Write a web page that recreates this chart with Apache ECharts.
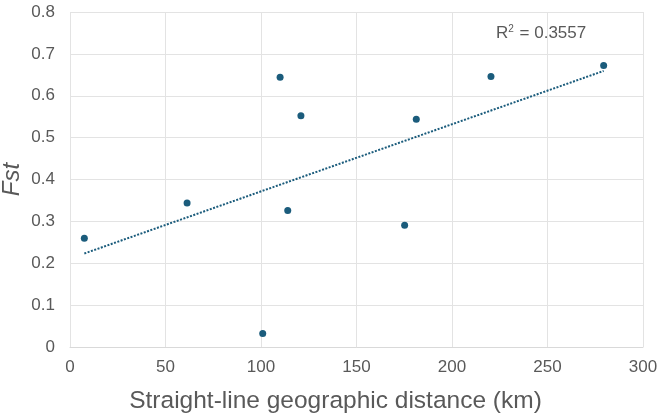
<!DOCTYPE html>
<html style="height: 100%">
<head>
    <meta charset="utf-8">
    <title>Fst vs distance</title>
    <script src="https://cdn.jsdelivr.net/npm/echarts@6/dist/echarts.min.js"></script>
    <style>
        html, body { margin: 0; padding: 0; background: #fff; }
        #container { width: 661px; height: 418px; }
    </style>
</head>
<body>
<div id="container"></div>
<script>
    // values
    var distKm = [7.5, 61.3, 100.9, 110, 114, 120.9, 175.2, 181.3, 220.4, 279.4];
    var fstVal = [0.26, 0.344, 0.032, 0.644, 0.326, 0.552, 0.291, 0.544, 0.646, 0.672];
    var r2Text = '0.3557';

    var points = [];
    for (var i = 0; i < distKm.length; i++) {
        points.push([distKm[i], fstVal[i]]);
    }

    // least squares trend line across the data range
    var n = distKm.length, mx = 0, my = 0;
    distKm.forEach(function (v) { mx += v / n; });
    fstVal.forEach(function (v) { my += v / n; });
    var sxy = 0, sxx = 0;
    for (var j = 0; j < n; j++) {
        sxy += (distKm[j] - mx) * (fstVal[j] - my);
        sxx += (distKm[j] - mx) * (distKm[j] - mx);
    }
    var slope = sxy / sxx;
    var icpt = my - slope * mx;
    var xMin = Math.min.apply(null, distKm);
    var xMax = Math.max.apply(null, distKm);
    var trend = [[xMin, icpt + slope * xMin], [xMax, icpt + slope * xMax]];

    var txtColor = '#595959';
    var font = 'Liberation Sans';
    var dotColor = '#1b5c7c';

    var myChart = echarts.init(document.getElementById('container'));
    var option = {
        animation: false,
        grid: { left: 70, right: 18, top: 12, bottom: 71, containLabel: false, outerBoundsMode: 'none' },
        xAxis: {
            type: 'value',
            min: 0, max: 300, interval: 50,
            name: 'Straight-line geographic distance (km)',
            nameLocation: 'middle',
            nameGap: 42,
            nameMoveOverlap: false,
            nameTextStyle: { fontSize: 24.5, color: txtColor, fontFamily: font, padding: [0, 42, 0, 0] },
            axisLine: { show: true, lineStyle: { color: '#d9d9d9' } },
            axisTick: { show: false },
            axisLabel: { fontSize: 17, color: txtColor, fontFamily: font, margin: 12 },
            splitLine: { show: true, lineStyle: { color: '#e3e3e3' } }
        },
        yAxis: {
            type: 'value',
            min: 0, max: 0.8, interval: 0.1,
            name: 'Fst',
            nameLocation: 'middle',
            nameGap: 46,
            nameMoveOverlap: false,
            nameTextStyle: { fontSize: 24, color: txtColor, fontFamily: font, fontStyle: 'italic' },
            axisLine: { show: false },
            axisTick: { show: false },
            axisLabel: {
                fontSize: 17, color: txtColor, fontFamily: font, margin: 15,
                formatter: function (v) { return v === 0 ? '0' : v.toFixed(1); }
            },
            splitLine: { show: true, lineStyle: { color: '#e3e3e3' } }
        },
        graphic: [{
            type: 'text',
            left: 496,
            top: 24,
            style: {
                text: '{b|R}{s|2}{b| = ' + r2Text + '}',
                rich: {
                    b: { fontSize: 17, fill: txtColor, fontFamily: font, verticalAlign: 'bottom' },
                    s: { fontSize: 10, fill: txtColor, fontFamily: font, verticalAlign: 'top', padding: [0, 1, 8, 0] }
                }
            }
        }],
        series: [
            {
                name: 'trend',
                type: 'line',
                data: trend,
                symbol: 'none',
                silent: true,
                lineStyle: { color: '#1b5c7c', width: 2, type: [2, 1.5] },
                z: 2
            },
            {
                name: 'Fst',
                type: 'scatter',
                data: points,
                symbolSize: 7,
                itemStyle: { color: dotColor, opacity: 1 },
                z: 3
            }
        ]
    };
    myChart.setOption(option);
</script>
</body>
</html>
